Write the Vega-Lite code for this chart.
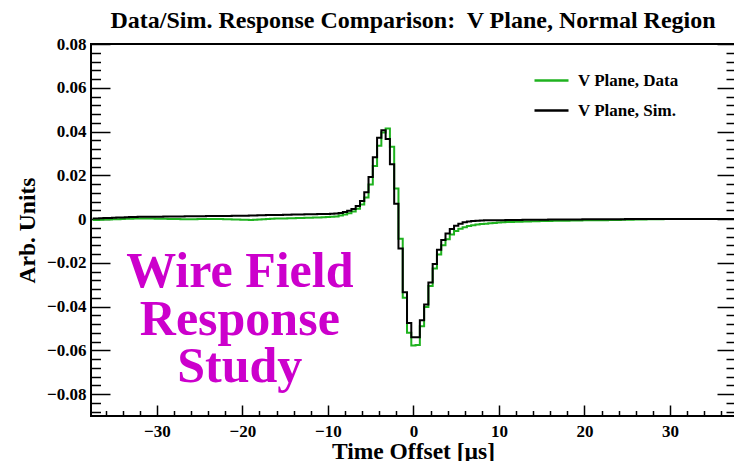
{
 "$schema": "https://vega.github.io/schema/vega-lite/v6.json",
 "width": 644, "height": 372,
 "autosize": {"type": "none"},
 "padding": {"left": 91, "top": 44, "right": 0, "bottom": 45},
 "background": "white",
 "view": {"stroke": "black", "strokeWidth": 2},
 "title": {"text": "Data/Sim. Response Comparison:\u00a0 V Plane, Normal Region", "font": "Liberation Serif", "fontSize": 24, "fontWeight": "bold", "color": "black", "anchor": "middle", "frame": "group", "baseline": "alphabetic", "offset": 14, "dy": 31},
 "data": {"values": [
  {"t":-37.5,"sim":0.0002,"data":-0.0004},{"t":-37.0,"sim":0.0003,"data":-0.0004},{"t":-36.5,"sim":0.0004,"data":-0.0003},{"t":-36.0,"sim":0.0005,"data":-0.0002},
  {"t":-35.5,"sim":0.0005,"data":-0.0002},{"t":-35.0,"sim":0.0006,"data":-0.0001},{"t":-34.5,"sim":0.0007,"data":-0.0001},{"t":-34.0,"sim":0.0007,"data":0.0},
  {"t":-33.5,"sim":0.0008,"data":0.0001},{"t":-33.0,"sim":0.0009,"data":0.0001},{"t":-32.5,"sim":0.0009,"data":0.0002},{"t":-32.0,"sim":0.001,"data":0.0002},
  {"t":-31.5,"sim":0.001,"data":0.0002},{"t":-31.0,"sim":0.0011,"data":0.0002},{"t":-30.5,"sim":0.0011,"data":0.0002},{"t":-30.0,"sim":0.0011,"data":0.0001},
  {"t":-29.5,"sim":0.0011,"data":0.0001},{"t":-29.0,"sim":0.0012,"data":0.0001},{"t":-28.5,"sim":0.0012,"data":0.0},{"t":-28.0,"sim":0.0012,"data":0.0},
  {"t":-27.5,"sim":0.0012,"data":0.0},{"t":-27.0,"sim":0.0012,"data":-0.0001},{"t":-26.5,"sim":0.0013,"data":-0.0001},{"t":-26.0,"sim":0.0013,"data":-0.0001},
  {"t":-25.5,"sim":0.0013,"data":-0.0001},{"t":-25.0,"sim":0.0013,"data":0.0},{"t":-24.5,"sim":0.0013,"data":0.0},{"t":-24.0,"sim":0.0014,"data":0.0},
  {"t":-23.5,"sim":0.0014,"data":0.0},{"t":-23.0,"sim":0.0014,"data":0.0},{"t":-22.5,"sim":0.0014,"data":0.0},{"t":-22.0,"sim":0.0014,"data":-0.0001},
  {"t":-21.5,"sim":0.0014,"data":-0.0001},{"t":-21.0,"sim":0.0015,"data":-0.0002},{"t":-20.5,"sim":0.0015,"data":-0.0002},{"t":-20.0,"sim":0.0015,"data":-0.0003},
  {"t":-19.5,"sim":0.0015,"data":-0.0003},{"t":-19.0,"sim":0.0016,"data":-0.0004},{"t":-18.5,"sim":0.0016,"data":-0.0003},{"t":-18.0,"sim":0.0017,"data":-0.0002},
  {"t":-17.5,"sim":0.0017,"data":-0.0001},{"t":-17.0,"sim":0.0018,"data":0.0},{"t":-16.5,"sim":0.0018,"data":0.0001},{"t":-16.0,"sim":0.0019,"data":0.0002},
  {"t":-15.5,"sim":0.0019,"data":0.0003},{"t":-15.0,"sim":0.002,"data":0.0003},{"t":-14.5,"sim":0.002,"data":0.0004},{"t":-14.0,"sim":0.0021,"data":0.0004},
  {"t":-13.5,"sim":0.0021,"data":0.0005},{"t":-13.0,"sim":0.0021,"data":0.0005},{"t":-12.5,"sim":0.0022,"data":0.0006},{"t":-12.0,"sim":0.0022,"data":0.0006},
  {"t":-11.5,"sim":0.0022,"data":0.0007},{"t":-11.0,"sim":0.0023,"data":0.0007},{"t":-10.5,"sim":0.0023,"data":0.0008},{"t":-10.0,"sim":0.0023,"data":0.0009},
  {"t":-9.5,"sim":0.0024,"data":0.001},{"t":-9.0,"sim":0.0025,"data":0.0012},{"t":-8.5,"sim":0.0028,"data":0.0016},{"t":-8.0,"sim":0.0032,"data":0.0021},
  {"t":-7.5,"sim":0.0038,"data":0.0027},{"t":-7.0,"sim":0.0046,"data":0.0035},{"t":-6.5,"sim":0.006,"data":0.0047},{"t":-6.0,"sim":0.0082,"data":0.0066},
  {"t":-5.5,"sim":0.0122,"data":0.0098},{"t":-5.0,"sim":0.0192,"data":0.0158},{"t":-4.5,"sim":0.0282,"data":0.0243},{"t":-4.0,"sim":0.0372,"data":0.0335},
  {"t":-3.5,"sim":0.0406,"data":0.0395},{"t":-3.0,"sim":0.0366,"data":0.0414},{"t":-2.5,"sim":0.025,"data":0.033},{"t":-2.0,"sim":0.007,"data":0.014},
  {"t":-1.5,"sim":-0.0135,"data":-0.009},{"t":-1.0,"sim":-0.0335,"data":-0.036},{"t":-0.5,"sim":-0.0475,"data":-0.052},{"t":0.0,"sim":-0.054,"data":-0.0578},
  {"t":0.5,"sim":-0.054,"data":-0.0575},{"t":1.0,"sim":-0.0462,"data":-0.049},{"t":1.5,"sim":-0.039,"data":-0.0402},{"t":2.0,"sim":-0.029,"data":-0.0306},
  {"t":2.5,"sim":-0.0205,"data":-0.0226},{"t":3.0,"sim":-0.014,"data":-0.0162},{"t":3.5,"sim":-0.0096,"data":-0.012},{"t":4.0,"sim":-0.0066,"data":-0.0092},
  {"t":4.5,"sim":-0.0045,"data":-0.007},{"t":5.0,"sim":-0.0031,"data":-0.0054},{"t":5.5,"sim":-0.0021,"data":-0.0044},{"t":6.0,"sim":-0.0015,"data":-0.0037},
  {"t":6.5,"sim":-0.0011,"data":-0.0032},{"t":7.0,"sim":-0.0009,"data":-0.0028},{"t":7.5,"sim":-0.0008,"data":-0.0025},{"t":8.0,"sim":-0.0007,"data":-0.0023},
  {"t":8.5,"sim":-0.0006,"data":-0.0021},{"t":9.0,"sim":-0.0006,"data":-0.0019},{"t":9.5,"sim":-0.0005,"data":-0.0018},{"t":10.0,"sim":-0.0005,"data":-0.0016},
  {"t":10.5,"sim":-0.0005,"data":-0.0015},{"t":11.0,"sim":-0.0004,"data":-0.0014},{"t":11.5,"sim":-0.0004,"data":-0.0013},{"t":12.0,"sim":-0.0004,"data":-0.0012},
  {"t":12.5,"sim":-0.0004,"data":-0.0012},{"t":13.0,"sim":-0.0003,"data":-0.0011},{"t":13.5,"sim":-0.0003,"data":-0.0011},{"t":14.0,"sim":-0.0003,"data":-0.001},
  {"t":14.5,"sim":-0.0003,"data":-0.001},{"t":15.0,"sim":-0.0003,"data":-0.0009},{"t":15.5,"sim":-0.0003,"data":-0.0009},{"t":16.0,"sim":-0.0002,"data":-0.0009},
  {"t":16.5,"sim":-0.0002,"data":-0.0008},{"t":17.0,"sim":-0.0002,"data":-0.0008},{"t":17.5,"sim":-0.0002,"data":-0.0008},{"t":18.0,"sim":-0.0002,"data":-0.0008},
  {"t":18.5,"sim":-0.0002,"data":-0.0007},{"t":19.0,"sim":-0.0002,"data":-0.0007},{"t":19.5,"sim":-0.0002,"data":-0.0007},{"t":20.0,"sim":-0.0001,"data":-0.0006},
  {"t":20.5,"sim":-0.0001,"data":-0.0006},{"t":21.0,"sim":-0.0001,"data":-0.0006},{"t":21.5,"sim":-0.0001,"data":-0.0005},{"t":22.0,"sim":-0.0001,"data":-0.0005},
  {"t":22.5,"sim":-0.0001,"data":-0.0005},{"t":23.0,"sim":-0.0001,"data":-0.0004},{"t":23.5,"sim":-0.0001,"data":-0.0004},{"t":24.0,"sim":-0.0001,"data":-0.0004},
  {"t":24.5,"sim":-0.0001,"data":-0.0003},{"t":25.0,"sim":0.0,"data":-0.0003},{"t":25.5,"sim":0.0,"data":-0.0003},{"t":26.0,"sim":0.0,"data":-0.0002},
  {"t":26.5,"sim":0.0,"data":-0.0002},{"t":27.0,"sim":0.0,"data":-0.0002},{"t":27.5,"sim":0.0,"data":-0.0001},{"t":28.0,"sim":0.0,"data":-0.0001},
  {"t":28.5,"sim":0.0,"data":-0.0001},{"t":29.0,"sim":0.0,"data":-0.0001},{"t":29.5,"sim":0.0,"data":0.0},{"t":30.0,"sim":0.0,"data":0.0},
  {"t":30.5,"sim":0.0,"data":0.0},{"t":31.0,"sim":0.0,"data":0.0},{"t":31.5,"sim":0.0,"data":0.0},{"t":32.0,"sim":0.0,"data":0.0},
  {"t":32.5,"sim":0.0,"data":0.0},{"t":33.0,"sim":0.0,"data":0.0},{"t":33.5,"sim":0.0,"data":0.0},{"t":34.0,"sim":0.0,"data":0.0},
  {"t":34.5,"sim":0.0,"data":0.0},{"t":35.0,"sim":0.0,"data":0.0},{"t":35.5,"sim":0.0,"data":0.0},{"t":36.0,"sim":0.0,"data":0.0},
  {"t":36.5,"sim":0.0,"data":0.0},{"t":37.0,"sim":0.0,"data":0.0},{"t":37.5,"sim":0.0,"data":0.0}
 ]},
 "layer": [
  {
   "mark": {"type": "line", "interpolate": "step", "strokeWidth": 2, "clip": true},
   "encoding": {
    "x": {"field": "t", "type": "quantitative", "scale": {"domain": [-37.7, 37.6], "nice": false, "zero": false},
     "axis": {"values": [-36,-34,-32,-30,-28,-26,-24,-22,-20,-18,-16,-14,-12,-10,-8,-6,-4,-2,0,2,4,6,8,10,12,14,16,18,20,22,24,26,28,30,32,34,36],
      "format": "~g", "labelExpr": "abs(datum.value) % 10 < 0.01 ? datum.label : ''",
      "tickSize": {"condition": {"test": "abs(datum.value) % 10 < 0.01", "value": -11}, "value": -5.5},
      "tickColor": "black", "tickWidth": 1.5, "domain": false, "grid": false,
      "labelFont": "Liberation Serif", "labelFontSize": 17, "labelFontWeight": "bold", "labelColor": "black", "labelPadding": 18, "labelOverlap": false, "labelFlush": false, "labelBound": false,
      "title": "Time Offset [µs]", "titleFont": "Liberation Serif", "titleFontSize": 23.5, "titleFontWeight": "bold", "titleColor": "black",
      "titleX": 322, "titleY": 42, "titleBaseline": "alphabetic", "titleAlign": "center", "titleAnchor": null}},
    "y": {"field": "data", "type": "quantitative", "scale": {"domain": [-0.09, 0.08], "nice": false, "zero": false},
     "axis": {"orient": "left", "values": [-0.088,-0.084,-0.08,-0.076,-0.072,-0.068,-0.064,-0.06,-0.056,-0.052,-0.048,-0.044,-0.04,-0.036,-0.032,-0.028,-0.024,-0.02,-0.016,-0.012,-0.008,-0.004,0,0.004,0.008,0.012,0.016,0.02,0.024,0.028,0.032,0.036,0.04,0.044,0.048,0.052,0.056,0.06,0.064,0.068,0.072,0.076,0.08],
      "format": "~g", "labelExpr": "abs(datum.value*50 - round(datum.value*50)) < 0.001 ? datum.label : ''",
      "tickSize": {"condition": {"test": "abs(datum.value*50 - round(datum.value*50)) < 0.001", "value": -19}, "value": -9.5},
      "tickColor": "black", "tickWidth": 1.5, "domain": false, "grid": false,
      "labelFont": "Liberation Serif", "labelFontSize": 17, "labelFontWeight": "bold", "labelColor": "black", "labelPadding": 24, "labelOverlap": false, "labelFlush": false, "labelBound": false,
      "title": "Arb. Units", "titleFont": "Liberation Serif", "titleFontSize": 23.5, "titleFontWeight": "bold", "titleColor": "black",
      "titleX": -57, "titleY": 186, "titleAngle": -90, "titleBaseline": "alphabetic", "titleAlign": "center", "titleAnchor": null}},
    "color": {"datum": "data", "type": "nominal", "scale": {"domain": ["data", "sim"], "range": ["#1fb21f", "#000000"]},
     "legend": {"title": null, "orient": "none", "legendX": 442, "legendY": 18, "symbolType": "stroke", "symbolSize": 1156, "symbolStrokeWidth": 2.5,
      "labelFont": "Liberation Serif", "labelFontSize": 17, "labelFontWeight": "bold", "labelColor": "black", "labelOffset": 8, "rowPadding": 3, "padding": 0,
      "labelExpr": "datum.label === 'data' ? 'V Plane, Data' : 'V Plane, Sim.'"}}
   }
  },
  {
   "mark": {"type": "line", "interpolate": "step", "strokeWidth": 2, "clip": true},
   "encoding": {
    "x": {"field": "t", "type": "quantitative",
     "axis": {"values": [-36,-34,-32,-30,-28,-26,-24,-22,-20,-18,-16,-14,-12,-10,-8,-6,-4,-2,0,2,4,6,8,10,12,14,16,18,20,22,24,26,28,30,32,34,36],
      "format": "~g", "labelExpr": "abs(datum.value) % 10 < 0.01 ? datum.label : ''",
      "tickSize": {"condition": {"test": "abs(datum.value) % 10 < 0.01", "value": -11}, "value": -5.5},
      "tickColor": "black", "tickWidth": 1.5, "domain": false, "grid": false,
      "labelFont": "Liberation Serif", "labelFontSize": 17, "labelFontWeight": "bold", "labelColor": "black", "labelPadding": 18, "labelOverlap": false, "labelFlush": false, "labelBound": false,
      "title": "Time Offset [µs]", "titleFont": "Liberation Serif", "titleFontSize": 23.5, "titleFontWeight": "bold", "titleColor": "black",
      "titleX": 322, "titleY": 42, "titleBaseline": "alphabetic", "titleAlign": "center", "titleAnchor": null}},
    "y": {"field": "sim", "type": "quantitative", "axis": null},
    "color": {"datum": "sim", "type": "nominal"}
   }
  },
  {
   "data": {"values": [{"label": "Wire Field|Response|Study"}]},
   "mark": {"type": "text", "font": "Liberation Serif", "fontSize": 50, "fontWeight": "bold", "color": "#cc00cc", "align": "center", "baseline": "alphabetic", "lineBreak": "|", "lineHeight": 47.5},
   "encoding": {
    "x": {"datum": -20.3, "type": "quantitative",
     "axis": {"values": [-36,-34,-32,-30,-28,-26,-24,-22,-20,-18,-16,-14,-12,-10,-8,-6,-4,-2,0,2,4,6,8,10,12,14,16,18,20,22,24,26,28,30,32,34,36],
      "format": "~g", "labelExpr": "abs(datum.value) % 10 < 0.01 ? datum.label : ''",
      "tickSize": {"condition": {"test": "abs(datum.value) % 10 < 0.01", "value": -11}, "value": -5.5},
      "tickColor": "black", "tickWidth": 1.5, "domain": false, "grid": false,
      "labelFont": "Liberation Serif", "labelFontSize": 17, "labelFontWeight": "bold", "labelColor": "black", "labelPadding": 18, "labelOverlap": false, "labelFlush": false, "labelBound": false,
      "title": "Time Offset [µs]", "titleFont": "Liberation Serif", "titleFontSize": 23.5, "titleFontWeight": "bold", "titleColor": "black",
      "titleX": 322, "titleY": 42, "titleBaseline": "alphabetic", "titleAlign": "center", "titleAnchor": null}},
    "y": {"datum": -0.0312, "type": "quantitative",
     "axis": {"orient": "right", "values": [-0.088,-0.084,-0.08,-0.076,-0.072,-0.068,-0.064,-0.06,-0.056,-0.052,-0.048,-0.044,-0.04,-0.036,-0.032,-0.028,-0.024,-0.02,-0.016,-0.012,-0.008,-0.004,0,0.004,0.008,0.012,0.016,0.02,0.024,0.028,0.032,0.036,0.04,0.044,0.048,0.052,0.056,0.06,0.064,0.068,0.072,0.076,0.08],
      "labels": false, "title": null, "domain": false, "grid": false, "tickColor": "black", "tickWidth": 1.5,
      "tickSize": {"condition": {"test": "abs(datum.value*50 - round(datum.value*50)) < 0.001", "value": -18}, "value": -9}}},
    "text": {"field": "label"}
   }
  }
 ],
 "resolve": {"axis": {"y": "independent"}}
}
